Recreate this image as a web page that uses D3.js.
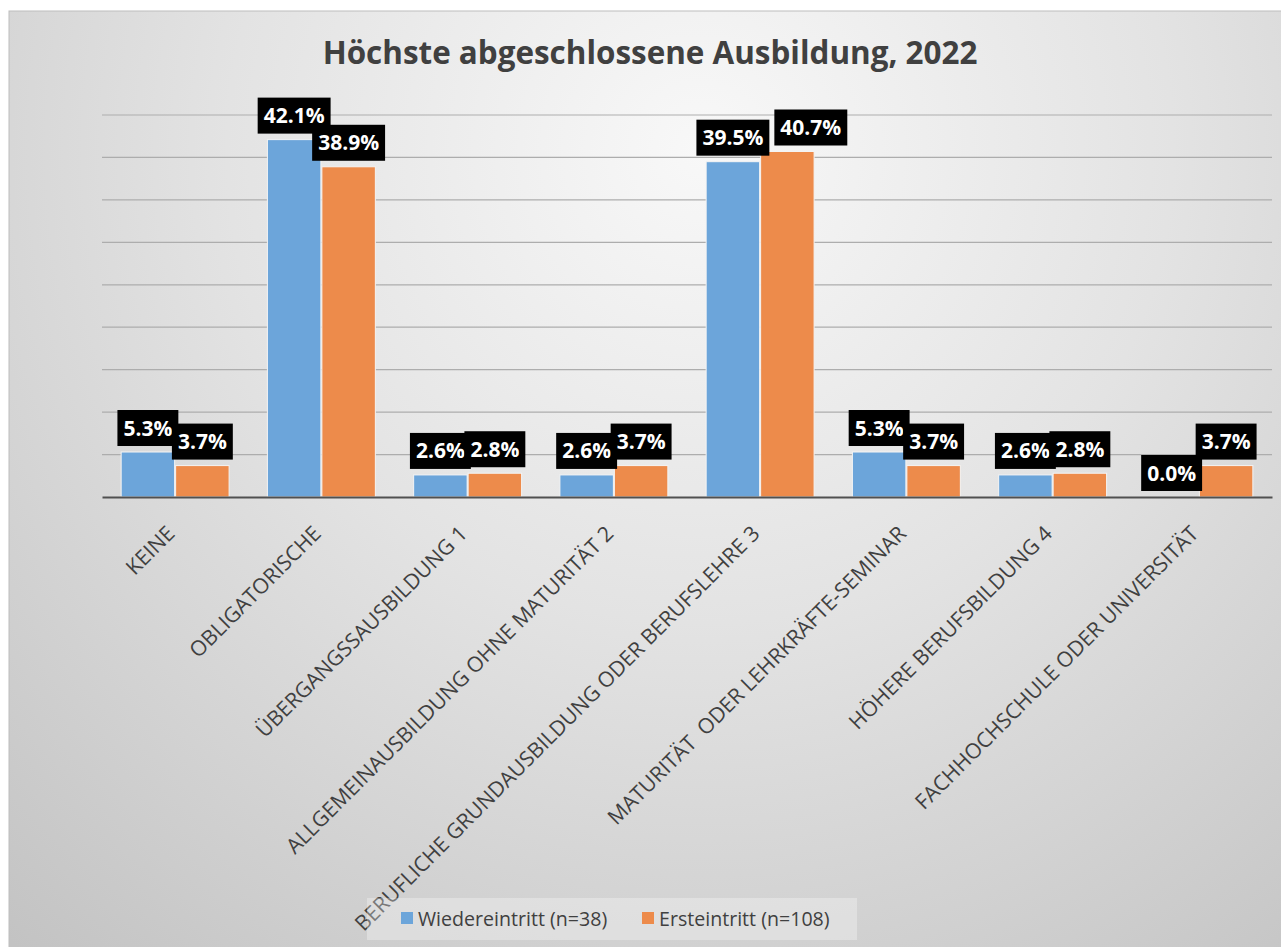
<!DOCTYPE html>
<html>
<head>
<meta charset="utf-8">
<script src="https://cdn.jsdelivr.net/npm/d3@7/dist/d3.min.js"></script>
<style>
  html, body { margin: 0; padding: 0; background: #ffffff; }
  svg { display: block; }
  text { font-family: "Open Sans", "Noto Sans", sans-serif; }
</style>
</head>
<body>
<svg id="chart" width="1281" height="947"></svg>
<script>
// ---- data ----
const categories = [
  "KEINE",
  "OBLIGATORISCHE",
  "ÜBERGANGSSAUSBILDUNG 1",
  "ALLGEMEINAUSBILDUNG OHNE MATURITÄT 2",
  "BERUFLICHE GRUNDAUSBILDUNG ODER BERUFSLEHRE 3",
  "MATURITÄT  ODER LEHRKRÄFTE-SEMINAR",
  "HÖHERE BERUFSBILDUNG 4",
  "FACHHOCHSCHULE ODER UNIVERSITÄT"
];
const seriesNames = ["Wiedereintritt (n=38)", "Ersteintritt (n=108)"];
const wiedereintritt = [5.3, 42.1, 2.6, 2.6, 39.5, 5.3, 2.6, 0.0];
const ersteintritt   = [3.7, 38.9, 2.8, 3.7, 40.7, 3.7, 2.8, 3.7];
const yTicks = [0, 5, 10, 15, 20, 25, 30, 35, 40, 45];
const titleText = "Höchste abgeschlossene Ausbildung, 2022";

const seriesValues = [wiedereintritt, ersteintritt];
const colors = ["#6ca5da", "#ed8b4b"];

// ---- layout ----
const svg = d3.select("#chart");
const W = 1281, H = 947;
const area = { x: 9, y: 11 };
const plot = { left: 102, right: 1272, top: 115, bottom: 497 };

// background gradient
const defs = svg.append("defs");
const grad = defs.append("radialGradient")
  .attr("id", "bg")
  .attr("gradientUnits", "userSpaceOnUse")
  .attr("cx", 700).attr("cy", 150).attr("r", 1050);
grad.append("stop").attr("offset", "0%").attr("stop-color", "#f8f8f8");
grad.append("stop").attr("offset", "45%").attr("stop-color", "#e3e3e3");
grad.append("stop").attr("offset", "100%").attr("stop-color", "#c3c3c3");

svg.append("rect")
  .attr("x", area.x).attr("y", area.y)
  .attr("width", W - area.x + 2).attr("height", H - area.y + 2)
  .attr("fill", "url(#bg)")
  .attr("stroke", "#bdbdbd").attr("stroke-width", 1);

// scales
const x0 = d3.scaleBand()
  .domain(categories)
  .range([plot.left, plot.right])
  .paddingInner(0.255)
  .paddingOuter(0.1275);
const x1 = d3.scaleBand()
  .domain([0, 1])
  .range([0, x0.bandwidth()])
  .padding(0);
const y = d3.scaleLinear()
  .domain([0, 45])
  .range([plot.bottom, plot.top]);

// gridlines
svg.append("g")
  .selectAll("line")
  .data(yTicks.filter(t => t > 0))
  .join("line")
  .attr("x1", plot.left).attr("x2", plot.right)
  .attr("y1", d => y(d)).attr("y2", d => y(d))
  .attr("stroke", "#adadad").attr("stroke-width", 1.2);

// bars
const groups = svg.append("g")
  .selectAll("g")
  .data(categories)
  .join("g")
  .attr("transform", d => `translate(${x0(d)},0)`);

groups.selectAll("rect")
  .data((d, i) => seriesValues.map((s, k) => ({ k, v: s[i] })))
  .join("rect")
  .attr("x", d => x1(d.k) + 0.5)
  .attr("width", x1.bandwidth() - 1)
  .attr("y", d => y(d.v))
  .attr("height", d => y(0) - y(d.v))
  .attr("fill", d => colors[d.k])
  .attr("stroke", "#f4f4f4").attr("stroke-width", 1);

// x axis line
const xAxis = d3.axisBottom(x0).tickSize(0).tickFormat("");
svg.append("g")
  .attr("transform", `translate(0,${plot.bottom})`)
  .call(xAxis)
  .call(g => g.select(".domain").attr("stroke", "#505050").attr("stroke-width", 2));

// x axis labels (rotated)
svg.append("g")
  .selectAll("text")
  .data(categories)
  .join("text")
  .attr("transform", d => `translate(${x0(d) + x0.bandwidth() / 2 + 1},${plot.bottom + 38}) rotate(-45)`)
  .attr("text-anchor", "end")
  .style("white-space", "pre")
  .attr("font-size", 21.2)
  .attr("fill", "#404040")
  .text(d => d);

// data labels (with simple overlap avoidance like Excel)
const labelLayer = svg.append("g");
const BOX_H = 36, PAD = 6;
const placed = []; // boxes of first series per category
[0, 1].forEach(k => {
  categories.forEach((c, i) => {
    const v = seriesValues[k][i];
    let cx = x0(c) + x1(k) + x1.bandwidth() / 2;
    const boxBottom = y(v) - 6;
    const g = labelLayer.append("g");
    const rect = g.append("rect").attr("fill", "#000000");
    const t = g.append("text")
      .attr("y", boxBottom - 10.5)
      .attr("text-anchor", "middle")
      .attr("font-size", 21)
      .attr("font-weight", "bold")
      .attr("fill", "#ffffff")
      .text(v.toFixed(1) + "%");
    const tw = t.node().getComputedTextLength();
    const bw = tw + 2 * PAD;
    let left = cx - bw / 2;
    const top = boxBottom - BOX_H;
    if (k === 0) {
      placed[i] = { left, right: left + bw, top, bottom: boxBottom };
    } else {
      const p = placed[i];
      const hOv = p.right - left;
      const vOv = Math.min(p.bottom, boxBottom) - Math.max(p.top, top);
      if (hOv > 15 && vOv > 20) left = p.right + 5;
    }
    t.attr("x", left + bw / 2);
    rect.attr("x", left).attr("y", top)
      .attr("width", bw).attr("height", BOX_H);
  });
});

// title
const title = svg.append("text")
  .attr("x", 650).attr("y", 64)
  .attr("text-anchor", "middle")
  .attr("font-size", 32)
  .attr("font-weight", "bold")
  .attr("fill", "#404040")
  .text(titleText);
const tl = title.node().getComputedTextLength();
title.attr("font-size", 32 * 655 / tl);

// legend
const legend = svg.append("g");
legend.append("rect")
  .attr("x", 367).attr("y", 898).attr("width", 490).attr("height", 42)
  .attr("fill", "#ffffff").attr("fill-opacity", 0.3);
const legendX = [401, 642];
seriesNames.forEach((name, k) => {
  legend.append("rect")
    .attr("x", legendX[k]).attr("y", 912)
    .attr("width", 12).attr("height", 12)
    .attr("fill", colors[k]);
  legend.append("text")
    .attr("x", legendX[k] + 17).attr("y", 926)
    .attr("font-size", 19.6)
    .attr("fill", "#404040")
    .text(name);
});
</script>
</body>
</html>
